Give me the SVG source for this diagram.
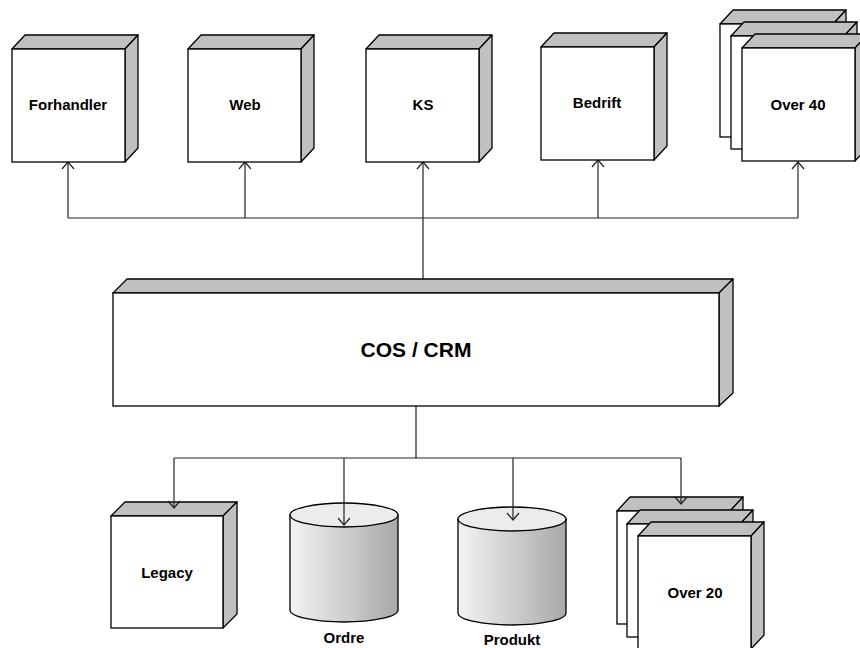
<svg xmlns="http://www.w3.org/2000/svg" width="860" height="648" viewBox="0 0 860 648">
<style>
.front{fill:#fff;stroke:#000;stroke-width:1.3}
.side{fill:#c0c0c0;stroke:#000;stroke-width:1.3;stroke-linejoin:round}
.lbl{font-family:"Liberation Sans",Arial,sans-serif;font-weight:bold;font-size:15px;text-anchor:middle;fill:#000}
.big{font-size:21px}
.conn{fill:none;stroke:#222;stroke-width:1.2}
.cylb{fill:url(#cg);stroke:#000;stroke-width:1.3}
.cylt{fill:#ececec;stroke:#000;stroke-width:1.3}
</style>
<defs>
<marker id="ah" markerWidth="14" markerHeight="14" refX="12" refY="7" orient="auto" markerUnits="userSpaceOnUse">
<path d="M5,1 L12,7 L5,13" fill="none" stroke="#222" stroke-width="1.2"/>
</marker>
<linearGradient id="cg" x1="0" y1="0" x2="1" y2="0">
<stop offset="0" stop-color="#f4f4f4"/>
<stop offset="1" stop-color="#a8a8a8"/>
</linearGradient>
<g id="box">
<polygon class="side" points="0,0 13,-14 126,-14 113,0"/>
<polygon class="side" points="113,0 126,-14 126,99 113,113"/>
<rect class="front" x="0" y="0" width="113" height="113"/>
</g>
</defs>

<g id="connectors">
<path class="conn" d="M68,218 H798"/>
<path class="conn" d="M423,287 V218"/>
<path class="conn" d="M68,218 V162" marker-end="url(#ah)"/>
<path class="conn" d="M245,218 V162" marker-end="url(#ah)"/>
<path class="conn" d="M423,218 V162" marker-end="url(#ah)"/>
<path class="conn" d="M598,218 V160" marker-end="url(#ah)"/>
<path class="conn" d="M798,218 V162" marker-end="url(#ah)"/>
<path class="conn" d="M416,406 V458 M174,458 H681"/>
</g>

<g id="forhandler"><use href="#box" x="12" y="49"/><text class="lbl" x="68" y="110">Forhandler</text></g>
<g id="web"><use href="#box" x="188" y="49"/><text class="lbl" x="245" y="110">Web</text></g>
<g id="ks"><use href="#box" x="366" y="49"/><text class="lbl" x="423" y="110">KS</text></g>
<g id="bedrift"><use href="#box" x="541" y="47"/><text class="lbl" x="597" y="108">Bedrift</text></g>
<g id="over40">
<use href="#box" x="720" y="24"/>
<use href="#box" x="731" y="36"/>
<use href="#box" x="742" y="48"/>
<text class="lbl" x="798" y="110">Over 40</text>
</g>

<g id="cos">
<polygon class="side" points="113,293 127,279 733,279 719,293"/>
<polygon class="side" points="719,293 733,279 733,393 719,406"/>
<rect class="front" x="113" y="293" width="606" height="113"/>
<text class="lbl big" x="416" y="357">COS / CRM</text>
</g>

<g id="legacy">
<polygon class="side" points="111,516 125,502 237,502 223,516"/>
<polygon class="side" points="223,516 237,502 237,614 223,628"/>
<rect class="front" x="111" y="516" width="112" height="112"/>
<text class="lbl" x="167" y="578">Legacy</text>
</g>

<g id="ordre">
<path class="cylb" d="M290,515 V610 A54,12 0 0 0 398,610 V515 Z"/>
<ellipse class="cylt" cx="344" cy="515" rx="54" ry="12"/>
<text class="lbl" x="344" y="643">Ordre</text>
</g>

<g id="produkt">
<path class="cylb" d="M458,519 V613 A54,12 0 0 0 566,613 V519 Z"/>
<ellipse class="cylt" cx="512" cy="519" rx="54" ry="12"/>
<text class="lbl" x="512" y="645">Produkt</text>
</g>

<g id="over20">
<use href="#box" x="617" y="511"/>
<use href="#box" x="627" y="524"/>
<use href="#box" x="638" y="536"/>
<text class="lbl" x="695" y="598">Over 20</text>
</g>

<g id="connectors-bottom">
<path class="conn" d="M174,458 V508" marker-end="url(#ah)"/>
<path class="conn" d="M344,458 V525" marker-end="url(#ah)"/>
<path class="conn" d="M513,458 V520" marker-end="url(#ah)"/>
<path class="conn" d="M681,458 V504" marker-end="url(#ah)"/>
</g>
</svg>
